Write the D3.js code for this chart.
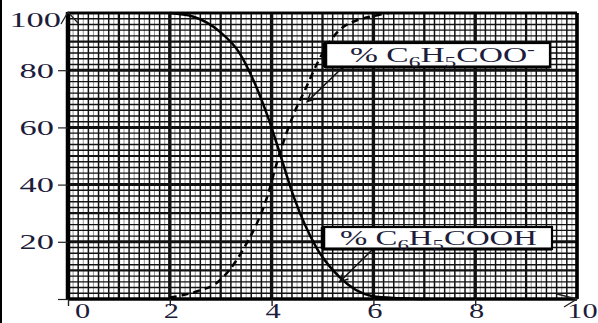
<!DOCTYPE html>
<html>
<head>
<meta charset="utf-8">
<script src="https://cdn.jsdelivr.net/npm/d3@7"></script>
<style>
  html, body { margin: 0; padding: 0; background: #fff; overflow: hidden; }
  svg { display: block; }
  text { font-family: "Liberation Serif", "DejaVu Serif", serif; fill: #1d1d3b; }
</style>
</head>
<body>
<svg id="chart" width="598" height="323"></svg>
<script>
// Axis ticks
const xTicks = [0, 2, 4, 6, 8, 10];
const yTicks = [0, 20, 40, 60, 80, 100];

// % C6H5COOH against pH (solid curve)
const acidPH  = [2.0, 2.45, 2.98, 3.37, 3.63, 3.96, 4.16, 4.45, 4.88, 5.33, 5.98, 6.5, 7.1];
const acidPct = [100, 98.8, 93.5, 86, 77, 62, 51, 35, 18, 7.7, 1, 0.3, 0];

// % C6H5COO- against pH (dashed curve)
const basePH  = [2.0, 2.59, 2.92, 3.43, 3.9, 4.16, 4.41, 4.68, 4.9, 5.4, 6.1, 6.3];
const basePct = [0.5, 3, 5.6, 17, 35, 51, 63.6, 74, 82.5, 95, 99.3, 100];

// Curve labels (text runs) and the point each label's arrow points at (pH, %)
const labelBase = [{t: "% C"}, {t: "6", sub: true}, {t: "H"}, {t: "5", sub: true}, {t: "COO"}, {t: "-", sup: true}];
const labelAcid = [{t: "% C"}, {t: "6", sub: true}, {t: "H"}, {t: "5", sub: true}, {t: "COOH"}];
const tipBase = [4.7, 69];
const tipAcid = [5.34, 6];

const svg = d3.select("#chart");
const x = d3.scaleLinear().domain([0, 10]).range([68, 577]);
const y = d3.scaleLinear().domain([0, 100]).range([299, 13]);
const INK = "#111";

// left edge strip
svg.append("rect").attr("x", 0).attr("y", 0).attr("width", 2).attr("height", 323).attr("fill", "#000");

// ---- graph paper grid ----
const grid = svg.append("g");
const vLines = d3.range(0, 101).map(i => ({v: i / 10, i}));
grid.selectAll("line.v").data(vLines).join("line")
  .attr("x1", d => x(d.v)).attr("x2", d => x(d.v))
  .attr("y1", y(100)).attr("y2", y(0))
  .attr("stroke", d => d.i % 2 === 0 ? INK : "#7a7a7a")
  .attr("stroke-width", d => d.i % 20 === 0 ? 3.4 : d.i % 10 === 0 ? 2.3 : d.i % 2 === 0 ? 1.5 : 0.8);

const hLines = d3.range(0, 101, 2);
grid.selectAll("line.h").data(hLines).join("line")
  .attr("x1", x(0)).attr("x2", x(10))
  .attr("y1", d => y(d)).attr("y2", d => y(d))
  .attr("stroke", INK)
  .attr("stroke-width", d => d % 20 === 0 ? 3 : d % 10 === 0 ? 2.2 : 1.4);

// frame
svg.append("line").attr("x1", x(0)).attr("x2", x(0)).attr("y1", y(100) - 1).attr("y2", y(0) + 1)
  .attr("stroke", "#000").attr("stroke-width", 4.5);
svg.append("line").attr("x1", x(0)).attr("x2", x(10)).attr("y1", y(0)).attr("y2", y(0))
  .attr("stroke", "#000").attr("stroke-width", 3);
svg.append("line").attr("x1", x(10)).attr("x2", x(10)).attr("y1", y(100)).attr("y2", y(0))
  .attr("stroke", "#000").attr("stroke-width", 3);
svg.append("line").attr("x1", x(0)).attr("x2", x(10)).attr("y1", y(100)).attr("y2", y(100))
  .attr("stroke", "#000").attr("stroke-width", 2);

// ---- axes ----
const yAxis = svg.append("g").attr("transform", `translate(${x(0)},0)`)
  .call(d3.axisLeft(y).tickValues(yTicks).tickSize(10).tickSizeOuter(0));
yAxis.select(".domain").remove();
yAxis.selectAll(".tick line").attr("stroke", "#222").attr("stroke-width", 1.2)
  .filter(d => d === 100).remove();
yAxis.selectAll(".tick text")
  .filter(d => d === 0).remove();
yAxis.selectAll(".tick text")
  .attr("x", 0).attr("dy", null)
  .attr("text-anchor", "end")
  .style("font-size", "20px")
  .attr("transform", d => d === 100 ? "translate(-7,13) scale(1.72,1)" : "translate(-14,7) scale(1.72,1)");

const xAxis = svg.append("g").attr("transform", `translate(0,${y(0)})`)
  .call(d3.axisBottom(x).tickValues(xTicks).tickSize(7).tickSizeOuter(0));
xAxis.select(".domain").remove();
xAxis.selectAll(".tick line").attr("stroke", "#222").attr("stroke-width", 1.4)
  .filter(d => d === 10).remove();
xAxis.selectAll(".tick text")
  .attr("y", 0).attr("dy", null)
  .attr("text-anchor", "middle")
  .style("font-size", "21px")
  .attr("transform", d => `translate(${d === 0 ? 14 : d === 10 ? 5 : 1},19) scale(1.45,1)`);

// axis arrow heads
const arrows = svg.append("g").attr("stroke", "#222").attr("stroke-width", 1.3).attr("fill", "none");
arrows.append("path").attr("d", `M${x(0) - 7},${y(100) + 11} L${x(0)},${y(100) - 1} L${x(0) + 10},${y(100) + 10}`);
arrows.append("path").attr("d", `M${x(10) - 20},${y(0) - 5} L${x(10)},${y(0)} L${x(10) - 13},${y(0) + 8}`);

// ---- curves ----
const line = d3.line().x(d => x(d[0])).y(d => y(d[1])).curve(d3.curveMonotoneX);
svg.append("path").datum(d3.zip(acidPH, acidPct))
  .attr("d", line).attr("fill", "none").attr("stroke", "#000").attr("stroke-width", 2.5);
svg.append("path").datum(d3.zip(basePH, basePct))
  .attr("d", line).attr("fill", "none").attr("stroke", "#000").attr("stroke-width", 2.5)
  .attr("stroke-dasharray", "7,5");

// ---- labels with arrows ----
function label(parts, box, textX, baseline, width, tip, from) {
  const g = svg.append("g");
  // pointer
  const tx = x(tip[0]), ty = y(tip[1]);
  g.append("line").attr("x1", from[0]).attr("y1", from[1]).attr("x2", tx).attr("y2", ty)
    .attr("stroke", "#111").attr("stroke-width", 1.5);
  const ang = Math.atan2(from[1] - ty, from[0] - tx);
  const bl = 9, spread = 0.45;
  g.append("path")
    .attr("d", `M${tx + bl * Math.cos(ang - spread)},${ty + bl * Math.sin(ang - spread)} L${tx},${ty} L${tx + bl * Math.cos(ang + spread)},${ty + bl * Math.sin(ang + spread)}`)
    .attr("fill", "none").attr("stroke", "#111").attr("stroke-width", 1.5);
  // box
  g.append("rect").attr("x", box[0]).attr("y", box[1]).attr("width", box[2] - box[0]).attr("height", box[3] - box[1])
    .attr("fill", "#fff").attr("stroke", "#000").attr("stroke-width", 2.2);
  g.append("line").attr("x1", box[0]).attr("x2", box[0]).attr("y1", box[1]).attr("y2", box[3])
    .attr("stroke", "#000").attr("stroke-width", 4.5);
  g.append("line").attr("x1", box[0]).attr("x2", box[2]).attr("y1", box[3]).attr("y2", box[3])
    .attr("stroke", "#000").attr("stroke-width", 3);
  // text
  const t = g.append("text").attr("x", 0).attr("y", 0).style("font-size", "20px");
  parts.forEach((p, i) => {
    const ts = t.append("tspan").text(p.t);
    const prev = i > 0 ? parts[i - 1] : null;
    let dy = 0;
    if (prev && prev.sub) dy -= 5;
    if (p.sub) { ts.style("font-size", "14px"); dy += 5; }
    if (p.sup) { ts.style("font-size", "14px"); dy -= 8; }
    if (dy) ts.attr("dy", dy);
  });
  const w = t.node().getComputedTextLength();
  t.attr("transform", `translate(${textX},${baseline}) scale(${width / w},1)`);
}

label(labelBase, [325, 43, 550, 67], 350, 62, 185, tipBase, [343, 67]);
label(labelAcid, [323, 227, 552, 249], 340, 245, 197, tipAcid, [373, 249]);
</script>
</body>
</html>
